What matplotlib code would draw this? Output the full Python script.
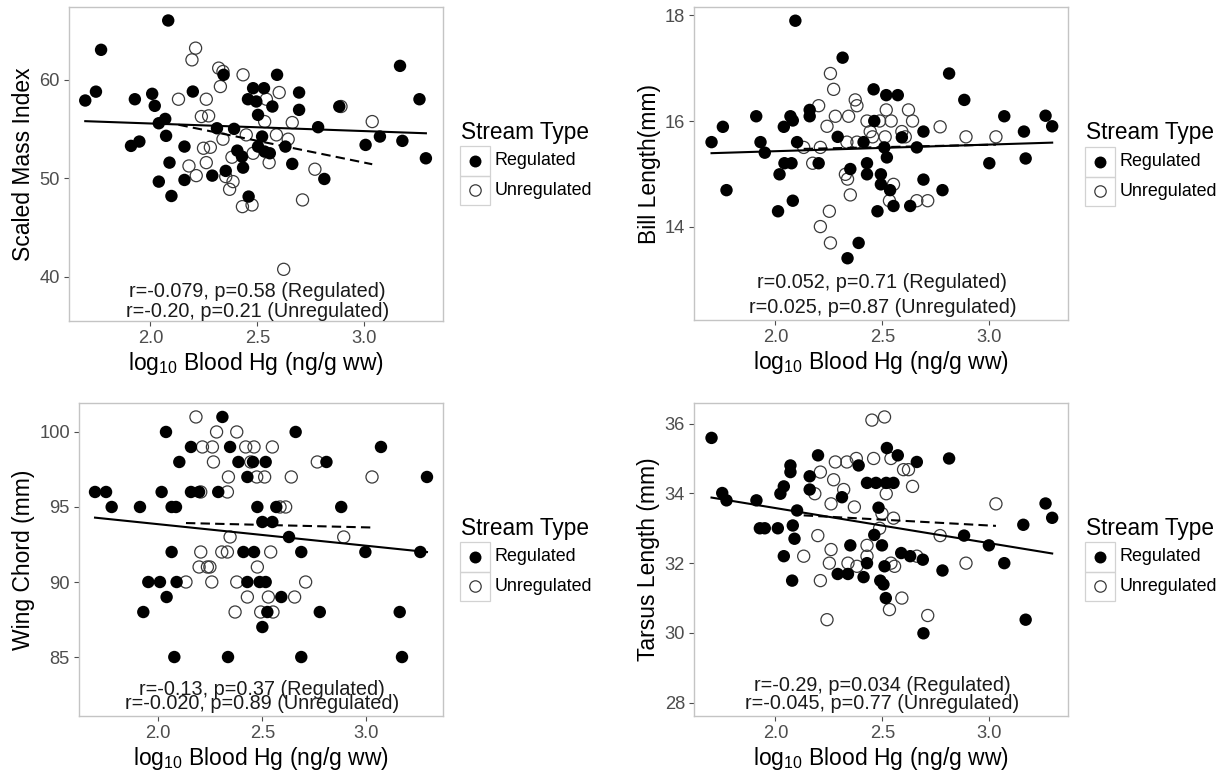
import matplotlib
matplotlib.use("Agg")
import matplotlib.pyplot as plt
from matplotlib.lines import Line2D
from matplotlib.patches import Rectangle
import numpy as np

plt.rcParams['font.family'] = ['Liberation Sans', 'DejaVu Sans']

# --- Scaled mass index ---
mass_reg_x = [1.695, 1.745, 1.769, 2.083, 1.927, 1.909, 1.948, 2.008, 2.02, 2.039, 2.069, 2.073, 2.039,
              2.089, 2.098, 2.159, 2.159, 2.198, 2.289, 2.311, 2.342, 2.352, 2.391, 2.406, 2.428, 2.433,
              2.459, 2.456, 2.48, 2.495, 2.531, 2.503, 2.522, 2.503, 2.534, 2.558, 2.57, 2.592, 2.631,
              2.663, 2.695, 2.695, 2.784, 2.813, 2.883, 3.006, 3.073, 3.167, 3.178, 3.258, 3.288]
mass_reg_y = [57.9, 58.8, 63.05, 66.03, 58.03, 53.29, 53.73, 58.58, 57.36, 55.59, 56.03, 54.31, 49.66,
              51.59, 48.2, 53.22, 49.83, 58.81, 50.27, 55.08, 60.51, 50.75, 55.02, 52.81, 52.2, 51.08,
              48.14, 58.03, 59.15, 57.8, 59.15, 56.44, 54.24, 53.22, 52.71, 52.54, 57.29, 60.51, 53.22,
              51.46, 58.71, 56.95, 55.19, 49.93, 57.29, 53.39, 54.24, 61.42, 53.8, 58.03, 52.03]
mass_unreg_x = [2.211, 2.194, 2.131, 2.261, 2.238, 2.272, 2.319, 2.339, 2.327, 2.433, 2.248, 2.28, 2.18,
                2.214, 2.261, 2.339, 2.381, 2.352, 2.386, 2.37, 2.43, 2.475, 2.448, 2.48, 2.542, 2.534,
                2.602, 2.589, 2.644, 2.555, 2.663, 2.769, 2.711, 2.623, 3.037, 2.891]
mass_unreg_y = [63.22, 62.03, 58.03, 58.03, 56.27, 56.34, 61.19, 60.85, 59.32, 60.51, 53.05, 53.15, 51.25,
                50.27, 51.59, 53.97, 52.14, 50.17, 49.66, 48.88, 47.12, 47.29, 54.41, 52.54, 58.03, 55.76,
                58.71, 54.41, 53.97, 51.59, 55.66, 50.92, 47.8, 40.75, 55.76, 57.29]
mass_fit_reg = (57.11, -0.772)      # intercept, slope
mass_fit_unreg = (64.88, -4.43)
mass_stats = ["r=-0.079, p=0.58 (Regulated)", "r=-0.20, p=0.21 (Unregulated)"]

# --- Bill length ---
bill_reg_x = [1.701, 1.754, 1.771, 1.91, 1.93, 1.95, 2.019, 2.012, 2.039, 2.042, 2.075, 2.07, 2.081,
              2.081, 2.093, 2.101, 2.16, 2.16, 2.202, 2.314, 2.291, 2.35, 2.337, 2.389, 2.412, 2.428,
              2.428, 2.459, 2.462, 2.477, 2.493, 2.493, 2.509, 2.521, 2.518, 2.572, 2.536, 2.552, 2.591,
              2.63, 2.661, 2.692, 2.692, 2.781, 2.812, 2.883, 3.0, 3.07, 3.162, 3.17, 3.263, 3.294]
bill_reg_y = [15.6, 15.89, 14.69, 16.09, 15.6, 15.4, 14.99, 14.29, 15.89, 15.2, 15.2, 16.09, 16.01,
              14.49, 17.9, 15.6, 16.21, 16.09, 15.2, 17.2, 15.7, 15.09, 13.4, 13.69, 15.6, 15.2,
              14.99, 16.6, 16.0, 14.29, 14.99, 14.8, 15.5, 15.31, 16.49, 16.49, 14.69, 14.39, 15.69,
              14.39, 15.5, 15.8, 14.89, 14.69, 16.9, 16.4, 15.2, 16.09, 15.8, 15.29, 16.1, 15.9]
bill_unreg_x = [2.257, 2.272, 2.202, 2.241, 2.28, 2.132, 2.21, 2.174, 2.327, 2.337, 2.35, 2.252, 2.21,
                2.257, 2.342, 2.373, 2.381, 2.334, 2.381, 2.428, 2.443, 2.454, 2.487, 2.513, 2.518,
                2.541, 2.622, 2.641, 2.591, 2.607, 2.552, 2.533, 2.661, 2.712, 2.77, 2.891, 3.031]
bill_unreg_y = [16.9, 16.6, 16.29, 15.9, 16.09, 15.5, 15.5, 15.2, 14.99, 14.9, 14.6, 14.29, 14.0,
                13.69, 16.09, 16.4, 16.29, 15.6, 15.6, 16.0, 15.8, 15.7, 16.0, 15.7, 16.21,
                16.0, 16.21, 16.0, 15.8, 15.7, 14.8, 14.49, 14.49, 14.49, 15.89, 15.7, 15.7]
bill_fit_reg = (15.177, 0.1255)
bill_fit_unreg = (15.28, 0.09)
bill_stats = ["r=0.052, p=0.71 (Regulated)", "r=0.025, p=0.87 (Unregulated)"]

# --- Wing chord ---
wing_reg_x = [1.696, 1.749, 1.776, 1.912, 1.928, 1.952, 2.008, 2.016, 2.037, 2.04, 2.064, 2.085, 2.064,
              2.088, 2.077, 2.101, 2.157, 2.157, 2.196, 2.288, 2.308, 2.345, 2.335, 2.385, 2.409, 2.428,
              2.428, 2.455, 2.46, 2.476, 2.487, 2.516, 2.516, 2.5, 2.524, 2.5, 2.548, 2.567, 2.591,
              2.628, 2.66, 2.687, 2.687, 2.776, 2.808, 2.879, 2.995, 3.07, 3.16, 3.171, 3.259, 3.291]
wing_reg_y = [96, 96, 95, 95, 88, 90, 90, 96, 100, 89, 95, 95, 92, 90, 85, 98, 99, 96, 96, 96, 101, 99,
              85, 98, 92, 90, 97, 98, 92, 95, 90, 90, 98, 94, 88, 87, 94, 95, 89, 93, 100, 92, 85, 88,
              98, 95, 92, 99, 88, 85, 92, 97]
wing_unreg_x = [2.181, 2.28, 2.377, 2.212, 2.265, 2.26, 2.42, 2.46, 2.548, 2.444, 2.337, 2.473, 2.511,
                2.639, 2.204, 2.332, 2.585, 2.612, 2.764, 3.027, 2.891, 2.345, 2.204, 2.305, 2.332,
                2.54, 2.196, 2.236, 2.248, 2.476, 2.133, 2.257, 2.377, 2.708, 2.428, 2.529, 2.655,
                2.369, 2.492, 2.551]
wing_unreg_y = [101, 100, 100, 99, 98, 99, 99, 99, 99, 98, 97, 97, 97, 97, 96, 96, 95, 95, 98, 97, 93,
                93, 92, 92, 92, 92, 91, 91, 91, 91, 90, 90, 90, 90, 89, 89, 89, 88, 88, 88]
wing_fit_reg = (96.727, -1.437)
wing_fit_unreg = (94.64, -0.333)
wing_stats = ["r=-0.13, p=0.37 (Regulated)", "r=-0.020, p=0.89 (Unregulated)"]

# --- Tarsus length ---
tars_reg_x = [1.701, 1.751, 1.771, 1.911, 1.927, 1.95, 2.011, 2.023, 2.039, 2.039, 2.07, 2.07, 2.081,
              2.089, 2.078, 2.101, 2.16, 2.16, 2.199, 2.311, 2.291, 2.339, 2.35, 2.389, 2.412, 2.428,
              2.428, 2.47, 2.462, 2.482, 2.498, 2.49, 2.505, 2.51, 2.516, 2.521, 2.518, 2.552, 2.572,
              2.588, 2.63, 2.661, 2.689, 2.692, 2.781, 2.812, 2.882, 2.998, 3.07, 3.159, 3.17, 3.263,
              3.294]
tars_reg_y = [35.59, 34.01, 33.8, 33.8, 33.0, 33.0, 33.0, 33.99, 34.2, 32.2, 34.8, 34.61, 33.08, 32.7,
              31.5, 33.51, 34.49, 34.11, 35.09, 33.89, 31.69, 31.69, 32.51, 34.8, 31.6, 32.0, 34.3,
              34.3, 32.81, 33.59, 32.51, 31.5, 31.39, 31.91, 31.0, 35.3, 34.3, 34.3, 35.09, 32.29,
              32.2, 34.9, 32.1, 29.99, 31.79, 35.0, 32.79, 32.51, 32.0, 33.1, 30.38, 33.71, 33.3]
tars_unreg_x = [2.451, 2.51, 2.21, 2.28, 2.334, 2.378, 2.459, 2.54, 2.272, 2.319, 2.184, 2.26, 2.369,
                2.518, 2.599, 2.622, 2.641, 2.498, 2.552, 2.487, 2.198, 2.26, 2.428, 2.428, 2.132,
                2.252, 2.339, 2.381, 2.54, 2.557, 2.21, 2.661, 2.591, 2.533, 2.241, 2.712, 2.77,
                2.891, 3.031]
tars_unreg_y = [36.1, 36.19, 34.61, 34.9, 34.9, 35.0, 35.0, 35.0, 34.39, 34.11, 33.99, 33.7, 33.61,
                33.99, 34.68, 34.68, 34.2, 33.42, 33.29, 33.0, 32.79, 32.39, 32.51, 32.2, 32.2,
                32.0, 32.0, 31.91, 32.0, 31.91, 31.5, 32.2, 31.0, 30.67, 30.38, 30.5, 32.79,
                32.0, 33.7]
tars_fit_reg = (35.591, -1.006)
tars_fit_unreg = (34.084, -0.335)
tars_stats = ["r=-0.29, p=0.034 (Regulated)", "r=-0.045, p=0.77 (Unregulated)"]

W, H = 1225, 776
FRAME = '#c4c4c4'
TICKCOL = '#4d4d4d'


def fx(x):
    return x / W


def fy(y):
    return 1 - y / H


def draw_panel(fig, box, reg, unreg, fit_reg, fit_unreg, stats, stat_y, ylabel, yticks, ylim):
    left, top, right, bottom = box
    ax = fig.add_axes([fx(left), fy(bottom), (right - left) / W, (bottom - top) / H])

    ax.scatter(unreg[0], unreg[1], s=76, facecolors='none', edgecolors='#3a3a3a',
               linewidths=0.9, zorder=2)
    ax.scatter(reg[0], reg[1], s=80, color='black', edgecolors='none', zorder=3)

    # least-squares lines over each group's range
    xr = np.array([min(reg[0]), max(reg[0])])
    ax.plot(xr, fit_reg[0] + fit_reg[1] * xr, color='black', lw=1.5, zorder=4)
    xu = np.array([min(unreg[0]), max(unreg[0])])
    ax.plot(xu, fit_unreg[0] + fit_unreg[1] * xu, color='black', lw=1.5,
            dashes=(4.5, 2.5), zorder=4)

    for txt, yy in zip(stats, stat_y):
        ax.text(2.5, yy, txt, ha='center', va='center', fontsize=14.3, color='#1a1a1a')

    ax.set_xlim(1.619, 3.368)
    ax.set_ylim(*ylim)
    ax.set_xticks([2.0, 2.5, 3.0])
    ax.set_xticklabels(['2.0', '2.5', '3.0'])
    ax.set_yticks(yticks)
    ax.tick_params(colors=TICKCOL, labelcolor=TICKCOL, labelsize=13.2, length=3.5,
                   width=0.8, pad=3)
    for sp in ax.spines.values():
        sp.set_color(FRAME)
        sp.set_linewidth(1.0)
    ax.set_xlabel(r'log$_{\mathregular{10}}$ Blood Hg (ng/g ww)', fontsize=16.5, labelpad=2)
    ax.set_ylabel(ylabel, fontsize=16.5, labelpad=3)
    return ax


def draw_legend(fig, x0, ytitle):
    fig.text(fx(x0 + 1), fy(ytitle), 'Stream Type', fontsize=16.3, va='center', ha='left')
    key = 29.5
    ybox = ytitle + 14
    for i, (lab, filled) in enumerate([('Regulated', True), ('Unregulated', False)]):
        y_top = ybox + i * key
        fig.add_artist(Rectangle((fx(x0), fy(y_top + key)), key / W, key / H,
                                 transform=fig.transFigure, fill=False,
                                 edgecolor='#d2d2d2', lw=0.9))
        cx, cy = x0 + key / 2, y_top + key / 2
        if filled:
            mk = Line2D([fx(cx)], [fy(cy)], marker='o', markersize=8.6, color='black',
                        markeredgewidth=0, linestyle='none', transform=fig.transFigure)
        else:
            mk = Line2D([fx(cx)], [fy(cy)], marker='o', markersize=8.2, markerfacecolor='none',
                        markeredgecolor='#3a3a3a', markeredgewidth=0.9, linestyle='none',
                        transform=fig.transFigure)
        fig.add_artist(mk)
        fig.text(fx(x0 + key + 5), fy(cy), lab, fontsize=12.9, va='center', ha='left')


fig = plt.figure(figsize=(W / 100, H / 100), dpi=100)

draw_panel(fig, (69, 7, 443, 321), (mass_reg_x, mass_reg_y), (mass_unreg_x, mass_unreg_y),
           mass_fit_reg, mass_fit_unreg, mass_stats, (38.47, 36.44),
           'Scaled Mass Index', [40, 50, 60], (35.5, 67.4))
draw_panel(fig, (694, 7, 1068, 320), (bill_reg_x, bill_reg_y), (bill_unreg_x, bill_unreg_y),
           bill_fit_reg, bill_fit_unreg, bill_stats, (12.94, 12.47),
           'Bill Length(mm)', [14, 16, 18], (12.23, 18.16))
draw_panel(fig, (79, 403, 443, 716), (wing_reg_x, wing_reg_y), (wing_unreg_x, wing_unreg_y),
           wing_fit_reg, wing_fit_unreg, wing_stats, (82.83, 81.93),
           'Wing Chord (mm)', [85, 90, 95, 100], (81.07, 101.93))
draw_panel(fig, (694, 403, 1068, 716), (tars_reg_x, tars_reg_y), (tars_unreg_x, tars_unreg_y),
           tars_fit_reg, tars_fit_unreg, tars_stats, (28.5, 27.99),
           'Tarsus Length (mm)', [28, 30, 32, 34, 36], (27.62, 36.59))

draw_legend(fig, 460, 132)
draw_legend(fig, 1085, 133)
draw_legend(fig, 460, 528)
draw_legend(fig, 1085, 528)

fig.savefig('out.png', dpi=100, facecolor='white')
